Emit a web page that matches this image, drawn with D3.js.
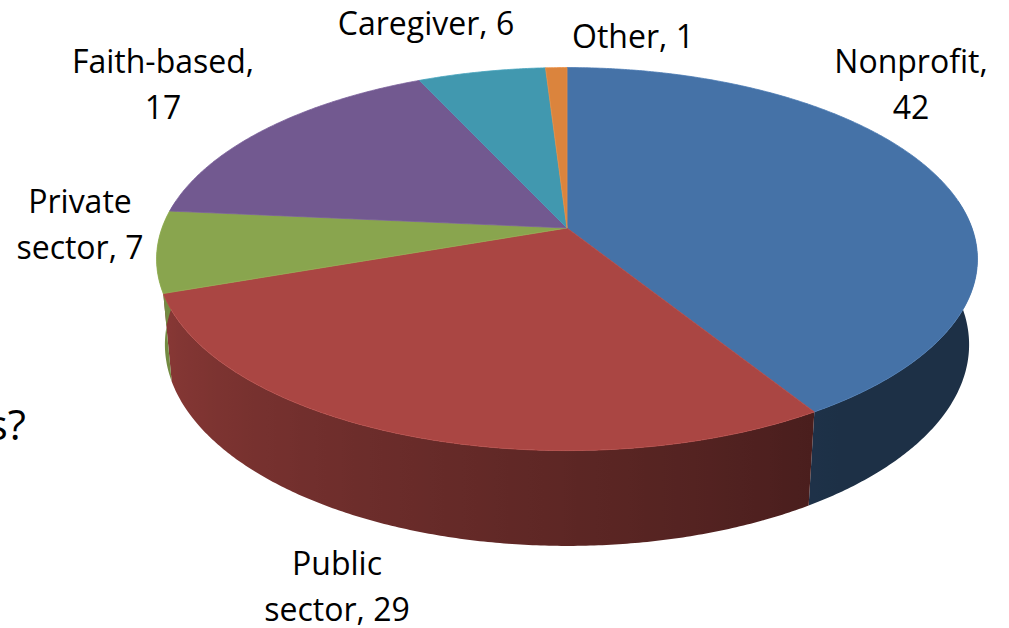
<!DOCTYPE html>
<html>
<head>
<meta charset="utf-8">
<script src="https://cdn.jsdelivr.net/npm/d3@7"></script>
<style>
  body { margin: 0; background: #fff; }
  svg { display: block; }
  text { font-family: "Open Sans", "Noto Sans", sans-serif; fill: #000; }
</style>
</head>
<body>
<svg id="chart" width="1009" height="628"></svg>
<script>
var categories = ["Nonprofit", "Public sector", "Private sector", "Faith-based", "Caregiver", "Other"];
var values = [42, 29, 7, 17, 6, 1];
var colors = ["#4572a7", "#aa4643", "#89a54e", "#725990", "#4198af", "#db843d"];
// how each data label is broken into lines
var labelLines = [["Nonprofit,", "42"], ["Public", "sector, 29"], ["Private", "sector, 7"],
                  ["Faith-based,", "17"], ["Caregiver, 6"], ["Other, 1"]];

var svg = d3.select("#chart");
var defs = svg.append("defs");

// label placement (centre x, first baseline)
var labelPos = {
  "Nonprofit": [911, 73], "Public sector": [337, 575], "Private sector": [80, 213],
  "Faith-based": [163, 73], "Caregiver": [426, 35], "Other": [633, 48]
};

// simple perspective camera looking down at the disk
var cx = 567, cy = 228;
var fk = 405;              // projected radius at the centre depth
var k = 0.1828;            // radius / camera distance
var sinA = 0.4604, cosA = Math.sqrt(1 - sinA * sinA);
var depth = 0.24;          // thickness relative to radius

function project(phi, y) {
  var X = Math.sin(phi), Z = Math.cos(phi);
  var zc = 1 + k * (Z * cosA - y * sinA);
  return [cx + fk * X / zc, cy - fk * (y * cosA + Z * sinA) / zc];
}

var color = d3.scaleOrdinal().domain(categories).range(colors);
var pie = d3.pie().sort(null).value(function(d) { return d; });
var arcs = pie(values);
var line = d3.line();

function shade(phi) {
  var deg = phi * 180 / Math.PI;
  var f = 0.44 + 0.0036 * (deg - 150);
  return Math.max(0.42, Math.min(0.84, f));
}

// outer walls: only the front half, one path per slice with a horizontal gradient
var lo = Math.PI / 2 - 0.15, hi = 3 * Math.PI / 2 + 0.15;
var walls = arcs.map(function(a, i) {
  var s = Math.max(a.startAngle, lo), e = Math.min(a.endAngle, hi);
  if (e <= s) return null;
  var n = Math.max(2, Math.ceil((e - s) / (Math.PI / 360)));
  var top = [], bot = [], phis = [];
  for (var j = 0; j <= n; j++) {
    var p = s + (e - s) * j / n;
    phis.push(p);
    top.push(project(p, 0));
    bot.push(project(p, -depth));
  }
  return { i: i, phis: phis, pts: top.concat(bot.reverse()), top: top };
}).filter(function(w) { return w; });

walls.forEach(function(w) {
  var base = color(categories[w.i]);
  var xs = w.top.map(function(p) { return p[0]; });
  var x0 = d3.min(xs), x1 = d3.max(xs);
  var g = defs.append("linearGradient").attr("id", "wall" + w.i)
    .attr("gradientUnits", "userSpaceOnUse")
    .attr("x1", x0).attr("x2", x1).attr("y1", 0).attr("y2", 0);
  var stops = w.phis.map(function(p, j) {
    return { off: x1 > x0 ? (xs[j] - x0) / (x1 - x0) : 0, c: d3.interpolateRgb("#000", base)(shade(p)) };
  }).sort(function(a, b) { return a.off - b.off; });
  stops.filter(function(d, j) { return j % 4 === 0 || j === stops.length - 1; })
    .forEach(function(d) { g.append("stop").attr("offset", d.off).attr("stop-color", d.c); });
});

svg.append("g").selectAll("path").data(walls).enter().append("path")
  .attr("d", function(w) { return line(w.pts) + "Z"; })
  .attr("fill", function(w) { return "url(#wall" + w.i + ")"; });

// top faces
svg.append("g").selectAll("path").data(arcs).enter().append("path")
  .attr("d", function(a) {
    var pts = [[cx, cy]];
    var n = Math.max(2, Math.ceil((a.endAngle - a.startAngle) / (Math.PI / 360)));
    for (var j = 0; j <= n; j++) {
      pts.push(project(a.startAngle + (a.endAngle - a.startAngle) * j / n, 0));
    }
    return line(pts) + "Z";
  })
  .attr("fill", function(a, i) { return color(categories[i]); })
  .attr("stroke", function(a, i) { return d3.color(color(categories[i])).brighter(0.2); })
  .attr("stroke-width", 0.8)
  .attr("stroke-linejoin", "round");

// data labels
var lab = svg.append("g").selectAll("text").data(categories).enter().append("text")
  .attr("text-anchor", "middle")
  .attr("font-size", 32)
  .attr("x", function(c) { return labelPos[c][0]; })
  .attr("y", function(c) { return labelPos[c][1]; });
lab.each(function(c, i) {
  var t = d3.select(this);
  labelLines[i].forEach(function(s, j) {
    t.append("tspan").attr("x", labelPos[c][0]).attr("dy", j === 0 ? 0 : 46).text(s);
  });
});

// tail of the slide question cut off at the left edge
svg.append("text").attr("x", 26).attr("y", 440).attr("text-anchor", "end")
  .attr("font-size", 42).text("s?");
</script>
</body>
</html>
